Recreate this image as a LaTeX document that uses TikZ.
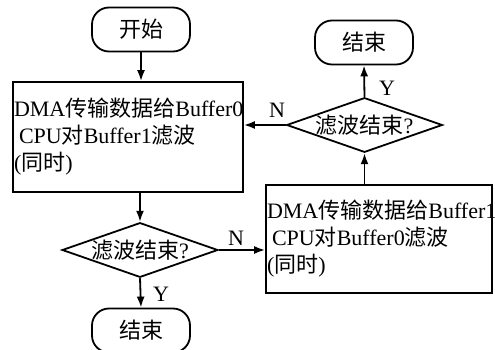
\documentclass[tikz,border=0pt]{standalone}
\usepackage{fontspec}
\setmainfont{Liberation Serif}
\newfontfamily\cjk{Noto Sans CJK SC}
\usetikzlibrary{arrows.meta,shapes.geometric}
\begin{document}
\begin{tikzpicture}[x=1pt,y=-1pt,
  every node/.style={font=\fontsize{22}{27}\selectfont},
  arr/.style={line width=1.8pt,-{Latex[length=11pt,width=8pt]}},
  term/.style={draw,line width=1.8pt,rectangle,rounded corners=17pt,minimum width=98pt,minimum height=44pt,inner sep=0pt},
  proc/.style={draw,line width=1.8pt,rectangle,inner sep=1pt,align=left},
  dec/.style={draw,line width=1.8pt,diamond,aspect=2.85,inner sep=0pt,minimum width=155pt,minimum height=54pt},
  lbl/.style={inner sep=0pt}]
\useasboundingbox (0,0) rectangle (495,350);
\node[term] (start) at (141,29.5) {\cjk 开始};
\node[proc,text width=228pt,minimum height=110pt] (box1) at (128,137)
  {DMA{\cjk 传输数据给}Buffer0\\\hspace*{5pt}CPU{\cjk 对}Buffer1{\cjk 滤波}\\({\cjk 同时})};
\node[dec] (dec1) at (140,250) {{\cjk 滤波结束}?};
\node[proc,text width=224pt,minimum height=108pt] (box2) at (379,239)
  {DMA{\cjk 传输数据给}Buffer1\\\hspace*{5pt}CPU{\cjk 对}Buffer0{\cjk 滤波}\\({\cjk 同时})};
\node[dec] (dec2) at (364.5,125) {{\cjk 滤波结束}?};
\node[term] (end1) at (364,42.5) {\cjk 结束};
\node[term] (end2) at (141,330.5) {\cjk 结束};
\draw[arr] (start.south) -- (start.south |- box1.north);
\draw[arr] (dec1.north |- box1.south) -- (dec1.north);
\draw[arr] (dec1.east) -- (dec1.east -| box2.west);
\draw[arr] (dec1.south) -- (end2.north);
\draw[arr] (dec2.south |- box2.north) -- (dec2.south);
\draw[arr] (dec2.north) -- (end1.south);
\draw[arr] (dec2.west) -- (dec2.west -| box1.east);
\node[lbl] (n1) at (236,238) {N};
\node[lbl] (y1) at (161,294) {Y};
\node[lbl] (n2) at (277,110) {N};
\node[lbl] (y2) at (387,88) {Y};
\end{tikzpicture}
\end{document}
